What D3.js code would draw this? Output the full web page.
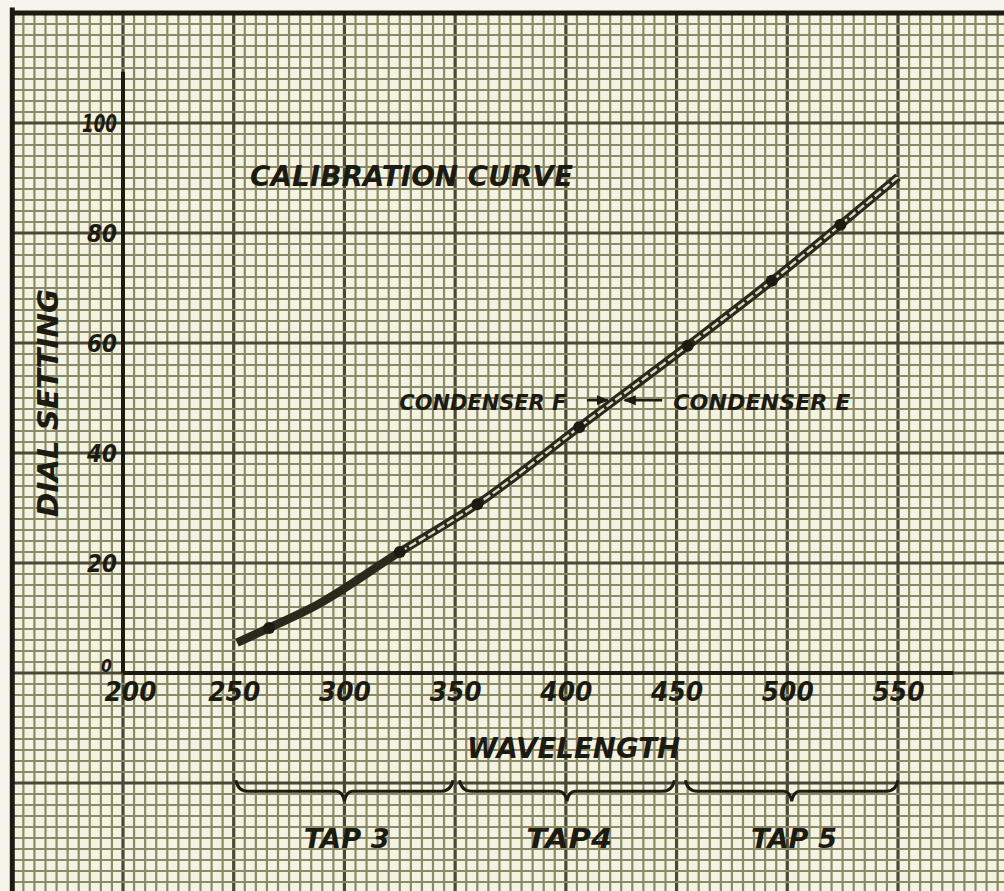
<!DOCTYPE html>
<html>
<head>
<meta charset="utf-8">
<script src="https://cdn.jsdelivr.net/npm/d3@7"></script>
<style>
  html, body { margin: 0; padding: 0; background: #f6f5ec; }
  svg { display: block; }
  text { font-family: "DejaVu Sans", "Liberation Sans", sans-serif; font-weight: bold; font-style: italic; fill: #1b1b12; }
</style>
</head>
<body>
<div id="chart"></div>
<script>
// calibration curve
var wavelength = [251.5, 266, 285, 325, 360, 406, 455, 493, 524, 550];
var dialSetting = [5.5, 8.2, 11.8, 22, 30.7, 44.7, 59.5, 71.3, 81.5, 90.2];
var markedWavelength = [266, 325, 360, 406, 455, 493, 524];

var xTicks = [200, 250, 300, 350, 400, 450, 500, 550];
var yTicks = [0, 20, 40, 60, 80, 100];

var tapNames = ["TAP 3", "TAP4", "TAP 5"];
var tapFrom = [251, 352, 454];
var tapTo = [349, 449, 550];

var W = 1004, H = 891;
var INK = "#1b1b12";

var svg = d3.select("#chart").append("svg")
	.attr("width", W)
	.attr("height", H);

// scales: 50 nm and 20 dial units per heavy square
var x = d3.scaleLinear().domain([200, 550]).range([123, 898]);
var y = d3.scaleLinear().domain([0, 100]).range([673, 123]);

//PAPER
svg.append("rect")
	.attr("x", x(150)).attr("y", y(120))
	.attr("width", W).attr("height", H)
	.attr("fill", "#f4f2e1");

//GRAPH PAPER GRID
var grid = svg.append("g");
var gx = d3.range(150, 610, 5);
var gy = d3.range(-40, 122, 2);

grid.selectAll("line.v").data(gx).enter().append("line")
	.attr("x1", function(d){ return x(d); })
	.attr("x2", function(d){ return x(d); })
	.attr("y1", y(120)).attr("y2", H)
	.attr("stroke", function(d){ return d % 50 == 0 ? "#4a4934" : "#8a8968"; })
	.attr("stroke-width", function(d){ return d % 50 == 0 ? 3.2 : 2.2; });

grid.selectAll("line.h").data(gy).enter().append("line")
	.attr("y1", function(d){ return y(d); })
	.attr("y2", function(d){ return y(d); })
	.attr("x1", x(150)).attr("x2", W)
	.attr("stroke", function(d){ return d % 20 == 0 ? "#4a4934" : "#8a8968"; })
	.attr("stroke-width", function(d){ return d % 20 == 0 ? 3.2 : 2.2; });

//OUTER FRAME
svg.append("line")
	.attr("x1", x(150)).attr("x2", x(150))
	.attr("y1", y(121)).attr("y2", H)
	.attr("stroke", INK).attr("stroke-width", 5);
svg.append("line")
	.attr("x1", x(149)).attr("x2", W)
	.attr("y1", y(120)).attr("y2", y(120))
	.attr("stroke", INK).attr("stroke-width", 5);

//AXES LINES
svg.append("line")
	.attr("x1", x(200)).attr("x2", x(200))
	.attr("y1", y(109.3)).attr("y2", y(0))
	.attr("stroke", INK).attr("stroke-width", 4);
svg.append("line")
	.attr("x1", x(200)).attr("x2", x(575))
	.attr("y1", y(0)).attr("y2", y(0))
	.attr("stroke", INK).attr("stroke-width", 4);

//TICK LABELS
var xAxis = svg.append("g")
	.attr("transform", "translate(0," + y(0) + ")")
	.call(d3.axisBottom(x).tickValues(xTicks).tickSize(0).tickPadding(10));
xAxis.select(".domain").remove();
xAxis.selectAll("text")
	.attr("font-size", 26)
	.attr("font-family", null)
	.attr("fill", INK)
	.attr("dx", function(d){ return d == 200 ? 7 : 0; })
	.attr("textLength", 52)
	.attr("lengthAdjust", "spacingAndGlyphs");

var yAxis = svg.append("g")
	.attr("transform", "translate(" + x(200) + ",0)")
	.call(d3.axisLeft(y).tickValues(yTicks).tickSize(0).tickPadding(6));
yAxis.select(".domain").remove();
yAxis.selectAll("text")
	.attr("font-size", function(d){ return d == 0 ? 17 : 24; })
	.attr("font-family", null)
	.attr("fill", INK)
	.attr("dx", function(d){ return d == 0 ? -5 : 0; })
	.attr("dy", function(d){ return d == 0 ? "-0.1em" : "0.36em"; })
	.attr("textLength", function(d){ return d == 0 ? 11 : (d >= 100 ? 35 : 30); })
	.attr("lengthAdjust", "spacingAndGlyphs");

//LETTERING
function label(txt, px, py, size, len, rotate){
	return svg.append("text")
		.attr("transform", "translate(" + px + "," + py + ")" + (rotate ? " rotate(" + rotate + ")" : ""))
		.attr("text-anchor", "middle")
		.attr("dy", "0.36em")
		.attr("font-size", size)
		.attr("textLength", len)
		.attr("lengthAdjust", "spacingAndGlyphs")
		.text(txt);
}

label("CALIBRATION CURVE", x(330.3), y(90.5), 29, 323);
label("DIAL SETTING", 48, y(49.1), 29, 228, -90);
label("WAVELENGTH", x(403.5), y(-13.6), 28, 213);
label("CONDENSER F", x(362.5), y(49.2), 21, 167, 0);
label("CONDENSER E", x(488.5), y(49.2), 21, 177, 0);

//ARROWS TO THE TWO CONDENSER LINES
var defs = svg.append("defs");
defs.append("marker")
	.attr("id", "head")
	.attr("viewBox", "0 0 10 10")
	.attr("refX", 9).attr("refY", 5)
	.attr("markerWidth", 5).attr("markerHeight", 5)
	.attr("orient", "auto")
	.append("path")
	.attr("d", "M0,1 L10,5 L0,9 Z")
	.attr("fill", INK);

var arrows = [[409.5, 419], [443.5, 426.5]];
svg.selectAll("line.arrow").data(arrows).enter().append("line")
	.attr("x1", function(d){ return x(d[0]); })
	.attr("x2", function(d){ return x(d[1]); })
	.attr("y1", y(49.6)).attr("y2", y(49.6))
	.attr("stroke", INK).attr("stroke-width", 2.5)
	.attr("marker-end", "url(#head)");

//THE CURVE (DOUBLE LINE)
var pts = wavelength.map(function(w, i){ return [w, dialSetting[i]]; });
var line = d3.line()
	.x(function(d){ return x(d[0]); })
	.y(function(d){ return y(d[1]); })
	.curve(d3.curveMonotoneX);

svg.append("path")
	.attr("d", line(pts))
	.attr("fill", "none")
	.attr("stroke", "#2a2a1c")
	.attr("stroke-width", 8.5)
	.attr("stroke-linecap", "butt");
svg.append("path")
	.attr("d", line(pts.filter(function(p){ return p[0] > 300; })))
	.attr("fill", "none")
	.attr("stroke", "#dcdac4")
	.attr("stroke-width", 2.4)
	.attr("stroke-dasharray", "8,3");

//PLOTTED POINTS
svg.selectAll("circle.pt")
	.data(pts.filter(function(p){ return markedWavelength.indexOf(p[0]) >= 0; }))
	.enter().append("circle")
	.attr("cx", function(d){ return x(d[0]); })
	.attr("cy", function(d){ return y(d[1]); })
	.attr("r", 6)
	.attr("fill", INK);

//TAP BRACES
var by = y(-21.5);
tapNames.forEach(function(name, i){
	var a = x(tapFrom[i]), b = x(tapTo[i]);
	var c = (a + b) / 2;
	var d = "M" + a + "," + (by - 11)
		+ " Q" + (a + 2) + "," + by + " " + (a + 12) + "," + by
		+ " L" + (c - 8) + "," + by
		+ " Q" + (c - 2) + "," + by + " " + c + "," + (by + 10)
		+ " Q" + (c + 2) + "," + by + " " + (c + 8) + "," + by
		+ " L" + (b - 12) + "," + by
		+ " Q" + (b - 2) + "," + by + " " + b + "," + (by - 11);
	svg.append("path")
		.attr("d", d)
		.attr("fill", "none")
		.attr("stroke", INK)
		.attr("stroke-width", 3);
	label(name, x((tapFrom[i] + tapTo[i]) / 2 + 1), y(-30), 27, 86);
});
</script>
</body>
</html>
